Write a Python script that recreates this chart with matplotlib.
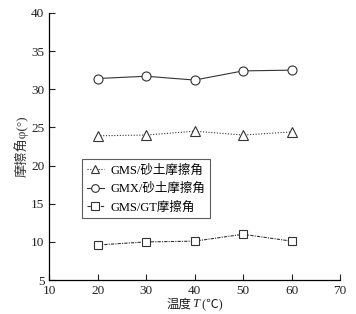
import numpy as np
import matplotlib as mpl
mpl.use('Agg')
import matplotlib.pyplot as plt
from matplotlib.offsetbox import TextArea, HPacker, AnchoredOffsetbox

plt.rcParams['font.family'] = ['Liberation Serif', 'Noto Sans CJK SC']

# Data
temps = [20, 30, 40, 50, 60]
gms_sand = [23.9, 24.0, 24.5, 24.0, 24.4]
gmx_sand = [31.4, 31.7, 31.2, 32.4, 32.5]
gms_gt = [9.6, 10.0, 10.1, 11.0, 10.1]
labels = ['GMS/砂土摩擦角', 'GMX/砂土摩擦角', 'GMS/GT摩擦角']

fig = plt.figure(figsize=(3.56, 3.14), dpi=100)
ax = fig.add_axes([0.138, 0.108, 0.817, 0.851])

c = '#333333'
ax.plot(temps, gms_sand, ls=(0, (1, 1.5)), lw=0.8, color=c, marker='^', ms=6.5,
        mfc='white', mec=c, mew=0.8, label=labels[0])
ax.plot(temps, gmx_sand, ls='-', lw=0.8, color=c, marker='o', ms=6.5,
        mfc='white', mec=c, mew=0.8, label=labels[1])
ax.plot(temps, gms_gt, ls=(0, (3, 1, 1, 1)), lw=0.8, color=c, marker='s', ms=6,
        mfc='white', mec=c, mew=0.8, label=labels[2])

ax.set_xlim(10, 70)
ax.set_ylim(5, 40)
ax.set_xticks(range(10, 71, 10))
ax.set_yticks(range(5, 41, 5))
ax.spines['top'].set_visible(False)
ax.spines['right'].set_visible(False)
ax.tick_params(direction='in', length=4, width=0.8, labelsize=9.5, colors='#222222')
for s in ['left', 'bottom']:
    ax.spines[s].set_linewidth(0.9)

# x label: 温度 T (℃) with italic T
fp = dict(fontsize=9, color='#222222')
parts = [TextArea('温度', textprops=dict(family='Noto Sans CJK SC', **fp)),
         TextArea('T', textprops=dict(family='Liberation Serif', style='italic', **fp)),
         TextArea(' (℃)', textprops=dict(family=['Liberation Serif', 'Noto Sans CJK SC'], **fp))]
xl = HPacker(children=parts, align='baseline', pad=0, sep=0)
ab = AnchoredOffsetbox(loc='upper center', child=xl, pad=0, frameon=False,
                       bbox_to_anchor=(0.5, -0.065), bbox_transform=ax.transAxes,
                       borderpad=0)
ax.add_artist(ab)

ax.set_ylabel('摩擦角φ(°)', fontsize=9.5, labelpad=2, color='#333333')

leg = ax.legend(loc='upper left', bbox_to_anchor=(0.09, 0.475), fontsize=9,
                frameon=True, fancybox=False, edgecolor='#333333',
                handlelength=1.4, handletextpad=0.5, borderpad=0.4,
                labelspacing=0.5, markerscale=0.85)
leg.get_frame().set_linewidth(0.8)

fig.savefig('out.png', dpi=100)
